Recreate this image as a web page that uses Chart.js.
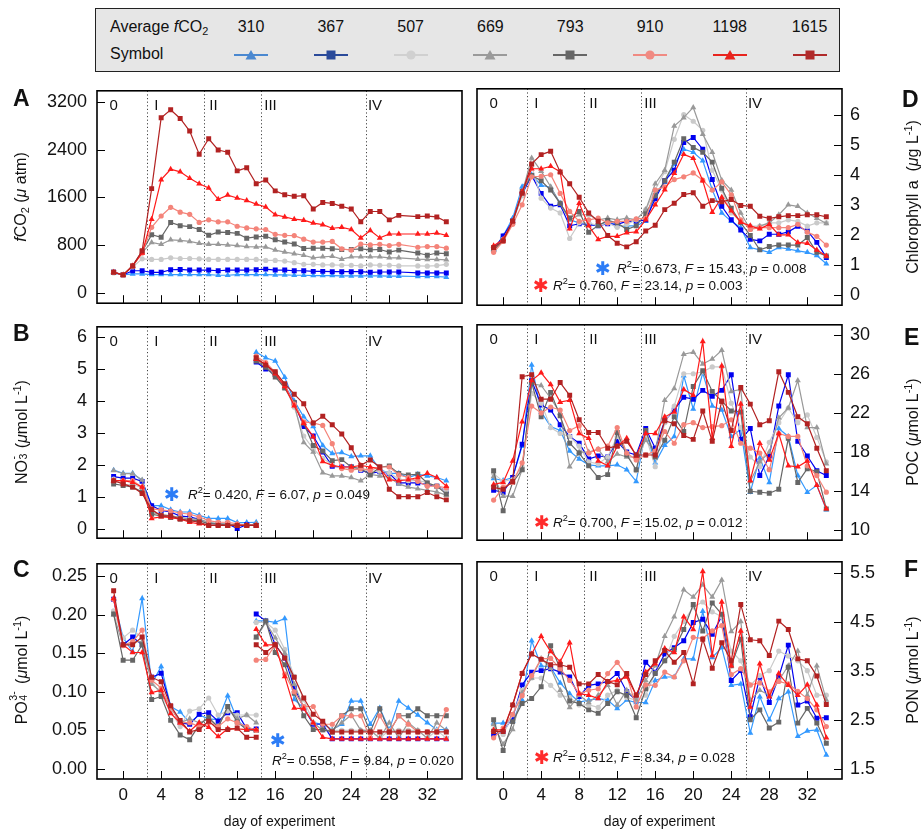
<!DOCTYPE html>
<html>
<head>
<meta charset="utf-8">
<title>Mesocosm time series</title>
<script src="https://cdn.jsdelivr.net/npm/chart.js@4.4.1/dist/chart.umd.min.js"></script>
<style>
  body { margin: 0; background: #fff; font-family: "Liberation Sans", Arial, Helvetica, sans-serif; color: #111; }
  #page { position: relative; width: 921px; height: 832px; overflow: hidden; }
  canvas { position: absolute; }
  sub, sup { font-size: 0.68em; line-height: 0; }
  sub { vertical-align: -0.3em; }
  sup { vertical-align: 0.55em; }
  /* superscript stacked over subscript (ion charges) */
  .ss { display: inline-block; position: relative; height: 1em; vertical-align: baseline; }
  .ss .u, .ss .d { position: absolute; left: 0.05em; font-size: 0.66em; line-height: 1; }
  .ss .u { top: -0.25em; }
  .ss .d { top: 0.62em; }
  #legend { position: absolute; left: 95px; top: 8px; width: 743px; height: 62px; background: #e6e6e6; border: 1px solid #222; }
  #legend span, #legend svg { position: absolute; white-space: nowrap; font-size: 16px; }
  .ytitle { position: absolute; white-space: nowrap; font-size: 16px; transform: translate(-50%, -50%) rotate(-90deg); }
  .letter { position: absolute; font-weight: bold; font-size: 23px; transform: translateY(-50%); }
  .stat { position: absolute; white-space: nowrap; font-size: 13.5px; transform: translateY(-50%); }
  .star { position: absolute; font-family: "DejaVu Sans", sans-serif; font-weight: bold; font-size: 19px; transform: translate(-50%, -50%); }
</style>
</head>
<body>
<div id="page">
  <div id="legend"></div>

  <canvas id="panelA" width="470" height="254" style="left:0;top:70px"></canvas>
  <canvas id="panelB" width="470" height="253" style="left:0;top:306px"></canvas>
  <canvas id="panelC" width="470" height="289" style="left:0;top:543px"></canvas>
  <canvas id="panelD" width="451" height="254" style="left:470px;top:70px"></canvas>
  <canvas id="panelE" width="451" height="253" style="left:470px;top:306px"></canvas>
  <canvas id="panelF" width="451" height="289" style="left:470px;top:543px"></canvas>

  <div class="letter" style="left:13px;top:98px">A</div>
  <div class="letter" style="left:13px;top:333px">B</div>
  <div class="letter" style="left:13px;top:569px">C</div>
  <div class="letter" style="left:902px;top:99px">D</div>
  <div class="letter" style="left:904px;top:337px">E</div>
  <div class="letter" style="left:904px;top:569px">F</div>

  <div class="ytitle" style="left:21px;top:197px"><i>f</i>CO<sub>2</sub> (<i>μ</i> atm)</div>
  <div class="ytitle" style="left:21px;top:432px">NO<span class="ss" style="width:0.45em"><span class="u">-</span><span class="d">3</span></span> (<i>μ</i>mol L<sup>-1</sup>)</div>
  <div class="ytitle" style="left:21px;top:670px">PO<span class="ss" style="width:0.8em"><span class="u">3-</span><span class="d">4</span></span> (<i>μ</i>mol L<sup>-1</sup>)</div>
  <div class="ytitle" style="left:913px;top:197px">Chlorophyll a&nbsp; (<i>μ</i>g L<sup>-1</sup>)</div>
  <div class="ytitle" style="left:913px;top:432px">POC (<i>μ</i>mol L<sup>-1</sup>)</div>
  <div class="ytitle" style="left:913px;top:670px">PON (<i>μ</i>mol L<sup>-1</sup>)</div>

  <span class="star" style="left:172px;top:494px;color:#2c7cf6">✱</span>
  <div class="stat" style="left:188px;top:494px"><i>R</i><sup>2</sup>= 0.420, <i>F</i> = 6.07, <i>p</i> = 0.049</div>
  <span class="star" style="left:278px;top:740px;color:#2c7cf6">✱</span>
  <div class="stat" style="left:272px;top:760px"><i>R</i><sup>2</sup>= 0.558, <i>F</i> = 9.84, <i>p</i> = 0.020</div>
  <span class="star" style="left:603px;top:268px;color:#2c7cf6">✱</span>
  <div class="stat" style="left:617px;top:268px"><i>R</i><sup>2</sup>= 0.673, <i>F</i> = 15.43, <i>p</i> = 0.008</div>
  <span class="star" style="left:541px;top:285px;color:#ff2a2a">✱</span>
  <div class="stat" style="left:553px;top:285px"><i>R</i><sup>2</sup>= 0.760, <i>F</i> = 23.14, <i>p</i> = 0.003</div>
  <span class="star" style="left:542px;top:522px;color:#ff2a2a">✱</span>
  <div class="stat" style="left:553px;top:522px"><i>R</i><sup>2</sup>= 0.700, <i>F</i> = 15.02, <i>p</i> = 0.012</div>
  <span class="star" style="left:542px;top:757px;color:#ff2a2a">✱</span>
  <div class="stat" style="left:553px;top:757px"><i>R</i><sup>2</sup>= 0.512, <i>F</i> = 8.34, <i>p</i> = 0.028</div>
</div>

<script>
// ==========================================================================
// SHARED AXES: days, phases, treatments
// ==========================================================================
const days = [-1, 0, 1, 2, 3, 4, 5, 6, 7, 8, 9, 10, 11, 12, 13, 14, 15, 16, 17, 18, 19, 20, 21, 22, 23, 24, 25, 26, 27, 28, 29, 30, 31, 32, 33, 34];
// nutrients were added on day 14, so that day is sampled twice (before / after)
const daysNutrients = [-1, 0, 1, 2, 3, 4, 5, 6, 7, 8, 9, 10, 11, 12, 13, 14, 14, 15, 16, 17, 18, 19, 20, 21, 22, 23, 24, 25, 26, 27, 28, 29, 30, 31, 32, 33, 34];
const dayTicks = [0, 4, 8, 12, 16, 20, 24, 28, 32];

const phaseBounds = [2.5, 8.5, 14.5, 25.5];
const phaseNames = ['0', 'I', 'II', 'III', 'IV'];
const phaseLabelDays = [-1, 3.5, 9.5, 15.5, 26.5];

const co2Levels = ['310', '367', '507', '669', '793', '910', '1198', '1615'];
const lineColors = ['#3399ff', '#0000f0', '#cacaca', '#999999', '#666666', '#f4847a', '#ff1a1a', '#b22222'];
const legendColors = ['#4a88d0', '#2a4a9a', '#d0d0d0', '#9a9a9a', '#666666', '#f08a82', '#e8241d', '#b02a2a'];
const pointShapes = ['triangle', 'rect', 'circle', 'triangle', 'rect', 'circle', 'triangle', 'rect'];

// ==========================================================================
// A: fCO2 (µatm)
// ==========================================================================
const fco2_310 = [340, 307, 323, 323, 312, 312, 312, 312, 312, 312, 312, 301, 301, 312, 312, 312, 312, 307, 307, 301, 301, 296, 296, 296, 290, 290, 290, 290, 290, 285, 285, null, 280, 280, 280, 269];
const fco2_367 = [350, 307, 376, 376, 350, 350, 393, 398, 387, 387, 387, 376, 387, 387, 387, 393, 403, 387, 387, 376, 376, 366, 366, 360, 360, 360, 360, 350, 355, 355, 355, null, 339, 339, 339, 339];
const fco2_507 = [339, 307, 440, 575, 565, 565, 592, 581, 581, 575, 565, 565, 565, 565, 565, 565, 549, 549, 538, 511, 484, 484, 473, 473, 468, 468, 457, 473, 468, 468, 457, null, 457, 452, 462, 484];
const fco2_669 = [350, 307, 457, 680, 850, 817, 893, 882, 866, 834, 817, 817, 807, 796, 780, 774, 774, 721, 688, 661, 635, 592, 608, 618, 570, 608, 608, 608, 608, 592, 592, null, 570, 565, 565, 559];
const fco2_793 = [350, 307, 457, 699, 979, 936, 1183, 1129, 1113, 1065, 968, 1022, 1016, 1000, 920, 941, 952, 893, 855, 823, 748, 753, 753, 742, 731, 731, 742, 726, 731, 688, 721, null, 672, 635, 672, 661];
const fco2_910 = [350, 307, 457, 672, 1102, 1291, 1436, 1355, 1318, 1183, 1226, 1194, 1194, 1119, 1092, 1076, 1065, 984, 968, 963, 904, 855, 855, 866, 742, 721, 823, 807, 817, 796, 817, null, 769, 780, 780, 753];
const fco2_1198 = [350, 307, 457, 672, 1237, 1898, 2071, 2028, 1920, 1829, 1759, 1570, 1640, 1592, 1549, 1490, 1441, 1312, 1275, 1237, 1221, 1172, 1146, 1086, 1102, 1065, 925, 1049, 925, 990, 990, null, 990, 990, 1006, 968];
const fco2_1615 = [350, 307, 457, 710, 1748, 2931, 3065, 2920, 2710, 2323, 2581, 2393, 2356, 2044, 2097, 1829, 1893, 1710, 1646, 1619, 1630, 1409, 1517, 1500, 1452, 1409, 1194, 1366, 1366, 1226, 1301, null, 1280, 1290, 1275, 1194];

// ==========================================================================
// B: NO3 (µmol/L)
// ==========================================================================
const no3_310 = [1.83, 1.73, 1.73, 1.51, 0.72, 0.72, 0.59, 0.52, 0.52, 0.42, 0.32, 0.32, 0.32, 0.19, 0.19, 0.2, 5.52, 5.35, 5.25, 4.74, 4.0, 3.5, 3.2, 2.6, 2.35, 2.38, 2.26, 2.28, 2.28, 1.85, 1.73, 1.73, 1.6, 1.7, 1.65, 1.6, 1.5];
const no3_367 = [1.63, 1.58, 1.58, 1.48, 0.72, 0.57, 0.52, 0.39, 0.37, 0.29, 0.17, 0.15, 0.15, 0.0, 0.12, 0.1, 5.22, 5.0, 4.84, 4.49, 3.94, 3.2, 2.9, 2.4, 1.95, 1.93, 1.93, 1.83, 1.73, 1.78, 1.73, 1.43, 1.43, 1.43, 1.38, 1.33, 1.18];
const no3_507 = [1.55, 1.38, 1.38, 1.28, 0.57, 0.42, 0.4, 0.35, 0.3, 0.25, 0.2, 0.15, 0.15, 0.1, 0.1, 0.1, 5.3, 5.15, 4.85, 4.45, 3.8, 2.9, 2.5, 2.2, 2.0, 1.9, 1.9, 1.85, 1.8, 1.8, 1.75, 1.55, 1.5, 1.5, 1.45, 1.3, 1.2];
const no3_669 = [1.82, 1.72, 1.72, 1.52, 0.5, 0.45, 0.4, 0.35, 0.3, 0.3, 0.2, 0.15, 0.15, 0.1, 0.1, 0.15, 5.3, 5.1, 4.8, 4.4, 3.9, 2.7, 2.4, 1.75, 1.65, 1.65, 1.6, 1.5, 1.7, 1.65, 1.6, 1.4, 1.3, 1.25, 1.2, 1.15, 1.05];
const no3_793 = [1.4, 1.35, 1.3, 1.15, 0.45, 0.4, 0.35, 0.3, 0.25, 0.25, 0.15, 0.15, 0.1, 0.1, 0.1, 0.1, 5.25, 5.05, 4.75, 4.4, 3.95, 3.3, 2.6, 2.43, 2.13, 2.16, 1.93, 1.88, 1.68, 1.93, 1.96, 1.73, 1.68, 1.7, 1.43, 1.33, 1.08];
const no3_910 = [1.5, 1.5, 1.5, 1.3, 0.62, 0.59, 0.55, 0.49, 0.45, 0.37, 0.25, 0.2, 0.2, 0.15, 0.1, 0.1, 5.4, 5.2, 4.9, 4.5, 3.9, 3.34, 3.31, 3.23, 2.66, 1.88, 1.83, 1.88, 1.83, 1.93, 1.93, 1.68, 1.6, 1.48, 1.33, 1.33, 1.28];
const no3_1198 = [1.5, 1.5, 1.45, 1.3, 0.32, 0.37, 0.35, 0.3, 0.2, 0.15, 0.1, 0.1, 0.1, 0.1, 0.1, 0.1, 5.3, 5.15, 4.85, 4.45, 3.85, 3.3, 2.88, 2.1, 1.98, 1.93, 1.93, 1.98, 1.93, 1.88, 1.53, 1.5, 1.53, 1.6, 1.73, 1.6, 1.33];
const no3_1615 = [1.5, 1.4, 1.3, 1.1, 0.6, 0.4, 0.4, 0.3, 0.25, 0.2, 0.1, 0.1, 0.1, 0.1, 0.1, 0.1, 5.35, 5.12, 4.91, 4.54, 4.21, 3.91, 3.31, 3.52, 3.25, 2.96, 2.53, 1.98, 2.15, 1.93, 1.23, 1.0, 1.0, 1.0, 1.13, 1.0, 0.9];

// ==========================================================================
// C: PO4 (µmol/L)
// ==========================================================================
const po4_310 = [0.22, 0.17, 0.152, 0.221, 0.11, 0.133, 0.081, 0.074, 0.06, 0.07, 0.065, 0.064, 0.095, 0.064, 0.051, 0.05, 0.192, 0.192, 0.19, 0.195, 0.09, 0.079, 0.06, 0.058, 0.051, 0.058, 0.088, 0.088, 0.058, 0.079, 0.051, 0.088, 0.079, 0.07, 0.06, 0.051, 0.051];
const po4_367 = [0.22, 0.161, 0.171, 0.161, 0.119, 0.124, 0.081, 0.06, 0.058, 0.071, 0.073, 0.062, 0.073, 0.073, 0.052, 0.052, 0.201, 0.192, 0.161, 0.144, 0.106, 0.079, 0.058, 0.058, 0.039, 0.039, 0.039, 0.039, 0.039, 0.039, 0.039, 0.039, 0.039, 0.039, 0.039, 0.039, 0.039];
const po4_507 = [0.205, 0.17, 0.18, 0.17, 0.115, 0.095, 0.075, 0.055, 0.075, 0.078, 0.092, 0.07, 0.075, 0.07, 0.07, 0.07, 0.19, 0.19, 0.18, 0.155, 0.12, 0.09, 0.06, 0.05, 0.05, 0.05, 0.05, 0.05, 0.05, 0.04, 0.05, 0.05, 0.05, 0.05, 0.04, 0.05, 0.04];
const po4_669 = [0.2, 0.16, 0.165, 0.165, 0.11, 0.1, 0.08, 0.06, 0.065, 0.06, 0.065, 0.055, 0.08, 0.065, 0.07, 0.06, 0.17, 0.19, 0.17, 0.15, 0.11, 0.08, 0.06, 0.05, 0.05, 0.06, 0.07, 0.05, 0.05, 0.04, 0.06, 0.04, 0.06, 0.05, 0.04, 0.06, 0.05];
const po4_793 = [0.201, 0.141, 0.141, 0.161, 0.09, 0.094, 0.063, 0.044, 0.038, 0.057, 0.067, 0.054, 0.081, 0.061, 0.051, 0.05, 0.171, 0.192, 0.151, 0.135, 0.098, 0.069, 0.051, 0.051, 0.048, 0.069, 0.078, 0.078, 0.048, 0.078, 0.048, 0.069, 0.069, 0.078, 0.069, 0.069, 0.069];
const po4_910 = [0.22, 0.16, 0.165, 0.18, 0.115, 0.105, 0.08, 0.06, 0.06, 0.055, 0.06, 0.055, 0.065, 0.06, 0.055, 0.05, 0.141, 0.142, 0.161, 0.123, 0.1, 0.081, 0.081, 0.058, 0.058, 0.069, 0.069, 0.069, 0.04, 0.069, 0.048, 0.069, 0.058, 0.048, 0.048, 0.048, 0.077];
const po4_1198 = [0.221, 0.161, 0.151, 0.151, 0.099, 0.102, 0.072, 0.06, 0.049, 0.06, 0.054, 0.042, 0.052, 0.052, 0.051, 0.051, 0.181, 0.161, 0.161, 0.12, 0.079, 0.078, 0.06, 0.041, 0.039, 0.039, 0.039, 0.039, 0.039, 0.039, 0.039, 0.039, 0.039, 0.039, 0.039, 0.039, 0.039];
const po4_1615 = [0.231, 0.161, 0.161, 0.171, 0.119, 0.113, 0.082, 0.063, 0.048, 0.051, 0.062, 0.051, 0.051, 0.053, 0.041, 0.041, 0.161, 0.151, 0.161, 0.144, 0.119, 0.092, 0.071, 0.062, 0.048, 0.048, 0.048, 0.048, 0.048, 0.048, 0.048, 0.048, 0.048, 0.048, 0.048, 0.048, 0.048];

// ==========================================================================
// D: chlorophyll a (µg/L)
// ==========================================================================
const chl_310 = [1.53, 1.96, 2.55, 3.6, 4.0, 3.65, 3.58, 3.05, 2.5, 2.4, 2.35, 2.3, 2.45, 2.3, 2.3, 2.3, 2.45, 3.35, 3.75, 4.35, 4.85, 4.75, 4.47, 3.5, 2.73, 2.45, 2.24, 1.58, 1.5, 1.42, 1.58, 1.53, 1.47, 1.42, 1.31, 1.04];
const chl_367 = [1.5, 1.96, 2.45, 3.35, 3.98, 3.38, 2.95, 3.0, 2.3, 2.37, 2.35, 2.3, 2.37, 2.35, 2.45, 2.45, 2.5, 3.2, 3.8, 4.15, 5.07, 5.24, 4.85, 3.84, 2.95, 2.5, 2.16, 1.85, 1.8, 2.02, 2.02, 2.1, 2.29, 2.13, 1.75, 1.25];
const chl_507 = [1.5, 1.85, 2.4, 3.3, 4.3, 3.22, 2.89, 2.73, 1.88, 2.4, 2.4, 2.3, 2.4, 2.25, 2.35, 2.5, 2.84, 3.5, 4.1, 5.18, 6.0, 5.78, 5.48, 4.15, 3.49, 2.73, 2.45, 2.29, 2.29, 2.4, 2.4, 2.5, 2.45, 2.29, 2.4, 2.4];
const chl_669 = [1.5, 1.85, 2.4, 3.4, 4.56, 4.12, 3.6, 3.03, 2.5, 2.67, 2.67, 2.5, 2.56, 2.5, 2.56, 2.5, 2.84, 3.7, 4.15, 5.62, 5.9, 6.24, 5.35, 4.75, 3.82, 3.49, 2.73, 2.18, 2.29, 2.4, 2.67, 3.0, 2.95, 2.73, 2.55, 2.38];
const chl_793 = [1.5, 1.8, 2.45, 3.45, 3.98, 3.8, 3.49, 3.05, 2.56, 2.78, 2.09, 2.31, 2.48, 2.4, 2.18, 2.3, 2.7, 3.3, 3.8, 4.42, 5.2, 4.91, 4.75, 4.42, 3.55, 2.89, 2.4, 1.98, 1.5, 1.61, 1.66, 1.66, 1.66, 1.91, 1.42, 1.3];
const chl_910 = [1.42, 1.78, 2.35, 3.0, 3.93, 3.95, 4.0, 3.38, 2.78, 2.45, 2.5, 2.56, 2.4, 2.45, 2.45, 2.53, 2.55, 3.49, 3.6, 3.84, 3.93, 4.06, 3.82, 3.49, 3.76, 3.33, 2.5, 2.18, 2.24, 2.24, 2.24, 2.24, 2.35, 2.09, 1.95, 1.66];
const chl_1198 = [1.64, 1.85, 2.45, 3.44, 4.2, 4.2, 4.28, 4.1, 2.2, 3.05, 2.3, 1.85, 1.95, 1.95, 2.07, 2.1, 2.5, 3.0, 3.5, 4.05, 4.68, 4.55, 3.8, 2.75, 3.25, 2.8, 2.42, 2.3, 2.2, 2.35, 2.0, 2.0, 1.75, 1.72, 1.5, 1.3];
const chl_1615 = [1.58, 1.8, 2.45, 3.38, 4.36, 4.67, 4.78, 4.09, 3.7, 3.25, 2.73, 2.45, 1.98, 1.72, 1.6, 1.77, 2.13, 2.32, 2.84, 3.05, 3.34, 3.4, 2.95, 3.14, 3.1, 3.18, 2.98, 2.95, 2.62, 2.55, 2.6, 2.64, 2.64, 2.67, 2.67, 2.6];

// ==========================================================================
// E: POC (µmol/L)
// ==========================================================================
const poc_310 = [15.3, 15.1, 15.4, 18.6, 26.9, 22.1, 20.6, 20.2, 18.1, 17.3, 16.7, 16.6, 16.6, 16.7, 16.2, 15.0, 20.2, 16.9, 18.7, 19.6, 25.8, 22.4, 26.1, 22.7, 22.3, 19.6, 20.3, 13.9, 17.4, 14.9, 20.4, 19.6, 15.6, 13.9, 14.6, 12.1];
const poc_367 = [14.1, 13.9, 15.4, 18.8, 25.3, 22.8, 22.3, 20.8, 19.6, 18.9, 17.3, 17.6, 17.5, 19.1, 18.0, 17.7, 20.4, 18.4, 21.2, 22.3, 23.6, 23.4, 24.3, 23.7, 24.3, 25.9, 19.3, 20.4, 15.6, 17.6, 22.7, 25.9, 19.1, 17.6, 16.1, 15.6];
const poc_507 = [15.8, 15.0, 15.2, 16.5, 24.0, 23.0, 20.5, 19.9, 19.6, 18.6, 17.0, 16.8, 17.5, 19.6, 17.9, 16.1, 19.6, 16.5, 21.0, 22.7, 26.0, 26.0, 26.2, 26.7, 26.7, 23.0, 20.5, 17.5, 16.5, 19.0, 21.0, 22.5, 21.0, 21.8, 19.5, 17.0];
const poc_669 = [15.5, 13.5, 13.5, 16.2, 25.0, 24.8, 23.5, 22.0, 16.5, 18.0, 18.0, 18.3, 17.0, 17.8, 17.5, 17.5, 19.2, 18.0, 23.3, 24.5, 28.0, 28.2, 27.0, 27.5, 28.4, 24.2, 24.4, 15.0, 17.0, 18.0, 21.5, 22.5, 25.3, 20.5, 20.5, 16.8];
const poc_793 = [16.1, 12.0, 14.9, 16.2, 25.1, 21.6, 24.1, 21.7, 18.9, 17.9, 16.6, 15.4, 15.7, 20.0, 17.7, 16.2, 20.2, 17.5, 19.2, 21.6, 20.1, 24.7, 26.3, 24.2, 23.2, 22.2, 22.1, 14.0, 13.9, 13.8, 14.2, 19.4, 14.9, 16.3, 16.0, 12.2];
const poc_910 = [13.1, 14.4, 14.9, 16.9, 22.7, 22.0, 22.6, 22.3, 20.2, 20.7, 17.9, 18.3, 18.6, 20.5, 17.9, 17.2, 17.7, 18.1, 20.1, 18.9, 20.8, 21.0, 20.5, 20.6, 20.7, 21.3, 18.9, 18.4, 17.9, 16.2, 19.9, 19.6, 19.6, 16.6, 15.6, 13.9];
const poc_1198 = [14.7, 14.9, 17.1, 21.1, 25.3, 26.1, 24.9, 23.1, 23.3, 19.9, 19.4, 17.1, 16.6, 18.6, 19.4, 17.6, 19.9, 19.9, 21.6, 22.1, 24.4, 23.8, 29.3, 19.4, 26.8, 18.6, 22.9, 15.1, 18.9, 17.2, 19.9, 16.6, 16.5, 17.1, 14.6, 12.2];
const poc_1615 = [14.4, 14.2, 15.0, 25.7, 25.9, 23.4, 23.4, 25.1, 23.8, 21.3, 20.0, 20.0, 18.4, 18.6, 19.1, 17.7, 17.7, 17.7, 21.2, 20.9, 19.7, 19.3, 22.2, 19.1, 23.2, 20.2, 24.6, 22.9, 20.8, 21.2, 26.2, 24.1, 21.6, 20.9, 18.4, 16.1];

// ==========================================================================
// F: PON (µmol/L)
// ==========================================================================
const pon_310 = [2.43, 2.43, 2.47, 2.9, 4.11, 3.6, 3.57, 3.25, 3.03, 2.86, 2.9, 2.93, 2.9, 2.73, 2.9, 2.85, 2.85, 3.3, 3.37, 3.37, 3.74, 3.74, 4.71, 3.77, 3.97, 3.2, 3.23, 2.23, 2.97, 2.5, 2.93, 3.07, 2.16, 2.27, 2.29, 1.78];
const pon_367 = [2.19, 2.26, 2.54, 3.21, 3.47, 3.5, 3.54, 3.47, 3.37, 2.97, 3.2, 3.23, 3.28, 3.44, 3.07, 2.9, 3.67, 3.47, 3.84, 3.97, 4.11, 4.48, 4.55, 4.24, 4.61, 3.3, 3.5, 2.56, 3.37, 2.85, 3.37, 4.02, 2.8, 2.88, 2.53, 2.54];
const pon_507 = [2.3, 2.2, 2.6, 3.1, 3.35, 3.35, 3.2, 3.0, 2.95, 2.8, 2.8, 2.75, 3.0, 3.1, 2.95, 2.9, 3.0, 3.45, 3.7, 4.2, 4.5, 4.8, 4.9, 4.7, 4.6, 3.9, 3.7, 3.2, 3.4, 3.5, 3.9, 3.8, 3.7, 3.5, 3.0, 3.0];
const pon_669 = [2.4, 2.0, 2.3, 3.05, 3.35, 3.75, 3.55, 3.1, 2.75, 3.0, 2.85, 3.0, 3.2, 2.8, 3.1, 2.9, 3.3, 3.6, 4.2, 4.6, 5.15, 5.0, 5.25, 5.0, 5.35, 4.3, 4.5, 2.9, 3.1, 3.0, 3.3, 3.6, 3.9, 3.0, 3.6, 2.9];
const pon_793 = [2.5, 1.87, 2.46, 2.83, 2.93, 3.17, 4.01, 3.54, 2.88, 2.83, 2.7, 2.63, 2.83, 3.07, 3.0, 2.54, 3.13, 3.44, 3.7, 3.93, 4.34, 4.85, 4.31, 4.88, 4.65, 3.6, 4.14, 2.5, 2.7, 2.33, 2.45, 3.57, 2.43, 2.73, 2.43, 2.02];
const pon_910 = [2.13, 2.33, 2.61, 2.99, 3.4, 3.74, 3.75, 3.54, 3.3, 3.03, 3.1, 3.13, 3.44, 3.67, 3.4, 2.76, 3.21, 3.2, 3.47, 3.37, 3.7, 4.18, 4.16, 4.31, 4.42, 3.42, 3.54, 3.21, 3.25, 3.07, 3.28, 3.23, 3.08, 2.93, 2.7, 2.36];
const pon_1198 = [2.29, 2.29, 2.8, 3.44, 3.84, 4.2, 3.89, 3.68, 4.07, 3.03, 3.0, 2.93, 3.27, 3.3, 3.37, 3.0, 3.47, 3.64, 3.95, 3.87, 4.6, 4.34, 5.52, 3.81, 4.9, 3.6, 4.31, 2.76, 3.64, 2.97, 3.44, 3.2, 3.0, 3.21, 2.8, 2.13];
const pon_1615 = [2.26, 2.26, 2.8, 3.44, 3.84, 3.73, 3.62, 3.62, 3.57, 3.23, 3.23, 3.42, 3.28, 3.21, 3.44, 3.0, 3.42, 3.7, 3.91, 3.67, 3.87, 3.23, 4.14, 3.55, 4.07, 3.7, 4.85, 4.13, 4.11, 3.81, 4.51, 4.34, 3.74, 3.7, 3.39, 2.81];

// y tick values per panel
const ticksFco2 = [0, 800, 1600, 2400, 3200];
const ticksNo3 = [0, 1, 2, 3, 4, 5, 6];
const ticksPo4 = [0, 0.05, 0.1, 0.15, 0.2, 0.25];
const ticksChl = [0, 1, 2, 3, 4, 5, 6];
const ticksPoc = [10, 14, 18, 22, 26, 30];
const ticksPon = [1.5, 2.5, 3.5, 4.5, 5.5];

document.addEventListener("DOMContentLoaded", function () {

    const FONT = '"Liberation Sans", Arial, Helvetica, sans-serif';

    // ----- legend box (treatment → symbol) -----
    const legend = document.getElementById("legend");
    legend.insertAdjacentHTML("beforeend",
        '<span style="left:14px;top:9px">Average <i>f</i>CO<sub>2</sub></span>' +
        '<span style="left:14px;top:36px">Symbol</span>');
    co2Levels.forEach(function (lvl, i) {
        const cx = 155 + i * 79.8;
        const c = legendColors[i];
        let mark;
        if (pointShapes[i] === 'triangle') mark = '<polygon points="18,1 23.5,10.5 12.5,10.5" fill="' + c + '"/>';
        else if (pointShapes[i] === 'rect') mark = '<rect x="13.5" y="1.5" width="9" height="9" fill="' + c + '"/>';
        else mark = '<circle cx="18" cy="6" r="4.6" fill="' + c + '"/>';
        legend.insertAdjacentHTML("beforeend",
            '<span style="left:' + cx + 'px;top:9px;transform:translateX(-50%)">' + lvl + '</span>' +
            '<svg width="36" height="12" style="left:' + (cx - 18) + 'px;top:40px">' +
            '<line x1="1" y1="6" x2="35" y2="6" stroke="' + c + '" stroke-width="2"/>' + mark + '</svg>');
    });

    // ----- phase separators, phase names, frame and inward tick marks -----
    const panelDecor = {
        id: 'panelDecor',
        beforeDatasetsDraw(chart) {
            const { ctx, chartArea: a, scales: { x } } = chart;
            ctx.save();
            ctx.strokeStyle = '#444';
            ctx.lineWidth = 1;
            ctx.setLineDash([1.2, 2.4]);
            phaseBounds.forEach(function (d) {
                const px = Math.round(x.getPixelForValue(d)) + 0.5;
                ctx.beginPath();
                ctx.moveTo(px, a.top);
                ctx.lineTo(px, a.bottom);
                ctx.stroke();
            });
            ctx.setLineDash([]);
            ctx.fillStyle = '#111';
            ctx.font = '15px ' + FONT;
            ctx.textAlign = 'center';
            ctx.textBaseline = 'middle';
            phaseNames.forEach(function (t, i) {
                ctx.fillText(t, x.getPixelForValue(phaseLabelDays[i]), a.top + 15);
            });
            ctx.restore();
        },
        afterDatasetsDraw(chart) {
            const { ctx, chartArea: a, scales: { x, y } } = chart;
            const onRight = y.options.position === 'right';
            ctx.save();
            ctx.strokeStyle = '#000';
            ctx.lineWidth = 1;
            ctx.beginPath();
            x.ticks.forEach(function (t) {
                const px = Math.round(x.getPixelForValue(t.value)) + 0.5;
                ctx.moveTo(px, a.bottom);
                ctx.lineTo(px, a.bottom - 8);
            });
            y.ticks.forEach(function (t) {
                const py = Math.round(y.getPixelForValue(t.value)) + 0.5;
                const x0 = onRight ? a.right : a.left;
                ctx.moveTo(x0, py);
                ctx.lineTo(onRight ? x0 - 8 : x0 + 8, py);
            });
            ctx.stroke();
            ctx.lineWidth = 1.6;
            ctx.strokeRect(a.left, a.top, a.right - a.left, a.bottom - a.top);
            ctx.restore();
        }
    };

    function buildDatasets(dayList, seriesList) {
        return seriesList.map(function (vals, i) {
            return {
                label: co2Levels[i],
                data: dayList.map(function (d, k) { return { x: d, y: vals[k] }; }),
                borderColor: lineColors[i],
                backgroundColor: lineColors[i],
                borderWidth: 1.2,
                pointStyle: pointShapes[i],
                pointRadius: pointShapes[i] === 'circle' ? 2.6 : 3.5,
                pointBorderWidth: 0,
                order: 7 - i,
                spanGaps: true,
                // no connecting line across the day-14 nutrient addition
                segment: {
                    borderColor: function (c) { return c.p0.parsed.x === c.p1.parsed.x ? 'rgba(0,0,0,0)' : undefined; }
                }
            };
        });
    }

    function makePanel(p) {
        const right = p.side === 'right';
        return new Chart(document.getElementById(p.id), {
            type: 'line',
            data: { datasets: buildDatasets(p.days, p.series) },
            options: {
                responsive: false,
                animation: false,
                layout: { padding: { top: 17, left: right ? 7 : 0, right: right ? 0 : 8, bottom: 0 } },
                plugins: { legend: { display: false }, tooltip: { enabled: false } },
                scales: {
                    x: {
                        type: 'linear', min: -2.75, max: 35.65,
                        afterBuildTicks: function (s) { s.ticks = dayTicks.map(function (v) { return { value: v }; }); },
                        afterFit: function (s) { s.height = p.showX ? 53 : 17; },
                        grid: { display: false, drawTicks: false },
                        border: { display: false },
                        ticks: { display: p.showX, color: '#111', font: { family: FONT, size: 17 }, padding: 6, maxRotation: 0 },
                        title: { display: p.showX, text: 'day of experiment', color: '#111', font: { family: FONT, size: 14 }, padding: { top: 4, bottom: 1 } }
                    },
                    y: {
                        position: right ? 'right' : 'left',
                        min: p.min, max: p.max,
                        afterBuildTicks: function (s) { s.ticks = p.ticks.map(function (v) { return { value: v }; }); },
                        afterFit: function (s) { s.width = right ? 79 : 97; },
                        grid: { display: false, drawTicks: false },
                        border: { display: false },
                        ticks: {
                            color: '#111', font: { family: FONT, size: 18 }, padding: right ? 8 : 10,
                            callback: function (v) { return v.toFixed(p.dec); }
                        }
                    }
                }
            },
            plugins: [panelDecor]
        });
    }

    makePanel({ id: 'panelA', side: 'left', days: days, min: -166, max: 3382, ticks: ticksFco2, dec: 0, showX: false,
        series: [fco2_310, fco2_367, fco2_507, fco2_669, fco2_793, fco2_910, fco2_1198, fco2_1615] });
    makePanel({ id: 'panelB', side: 'left', days: daysNutrients, min: -0.3, max: 6.32, ticks: ticksNo3, dec: 0, showX: false,
        series: [no3_310, no3_367, no3_507, no3_669, no3_793, no3_910, no3_1198, no3_1615] });
    makePanel({ id: 'panelC', side: 'left', days: daysNutrients, min: -0.013, max: 0.266, ticks: ticksPo4, dec: 2, showX: true,
        series: [po4_310, po4_367, po4_507, po4_669, po4_793, po4_910, po4_1198, po4_1615] });
    makePanel({ id: 'panelD', side: 'right', days: days, min: -0.34, max: 6.86, ticks: ticksChl, dec: 0, showX: false,
        series: [chl_310, chl_367, chl_507, chl_669, chl_793, chl_910, chl_1198, chl_1615] });
    makePanel({ id: 'panelE', side: 'right', days: days, min: 9.0, max: 31.0, ticks: ticksPoc, dec: 0, showX: false,
        series: [poc_310, poc_367, poc_507, poc_669, poc_793, poc_910, poc_1198, poc_1615] });
    makePanel({ id: 'panelF', side: 'right', days: days, min: 1.29, max: 5.72, ticks: ticksPon, dec: 1, showX: true,
        series: [pon_310, pon_367, pon_507, pon_669, pon_793, pon_910, pon_1198, pon_1615] });
});
</script>
</body>
</html>
